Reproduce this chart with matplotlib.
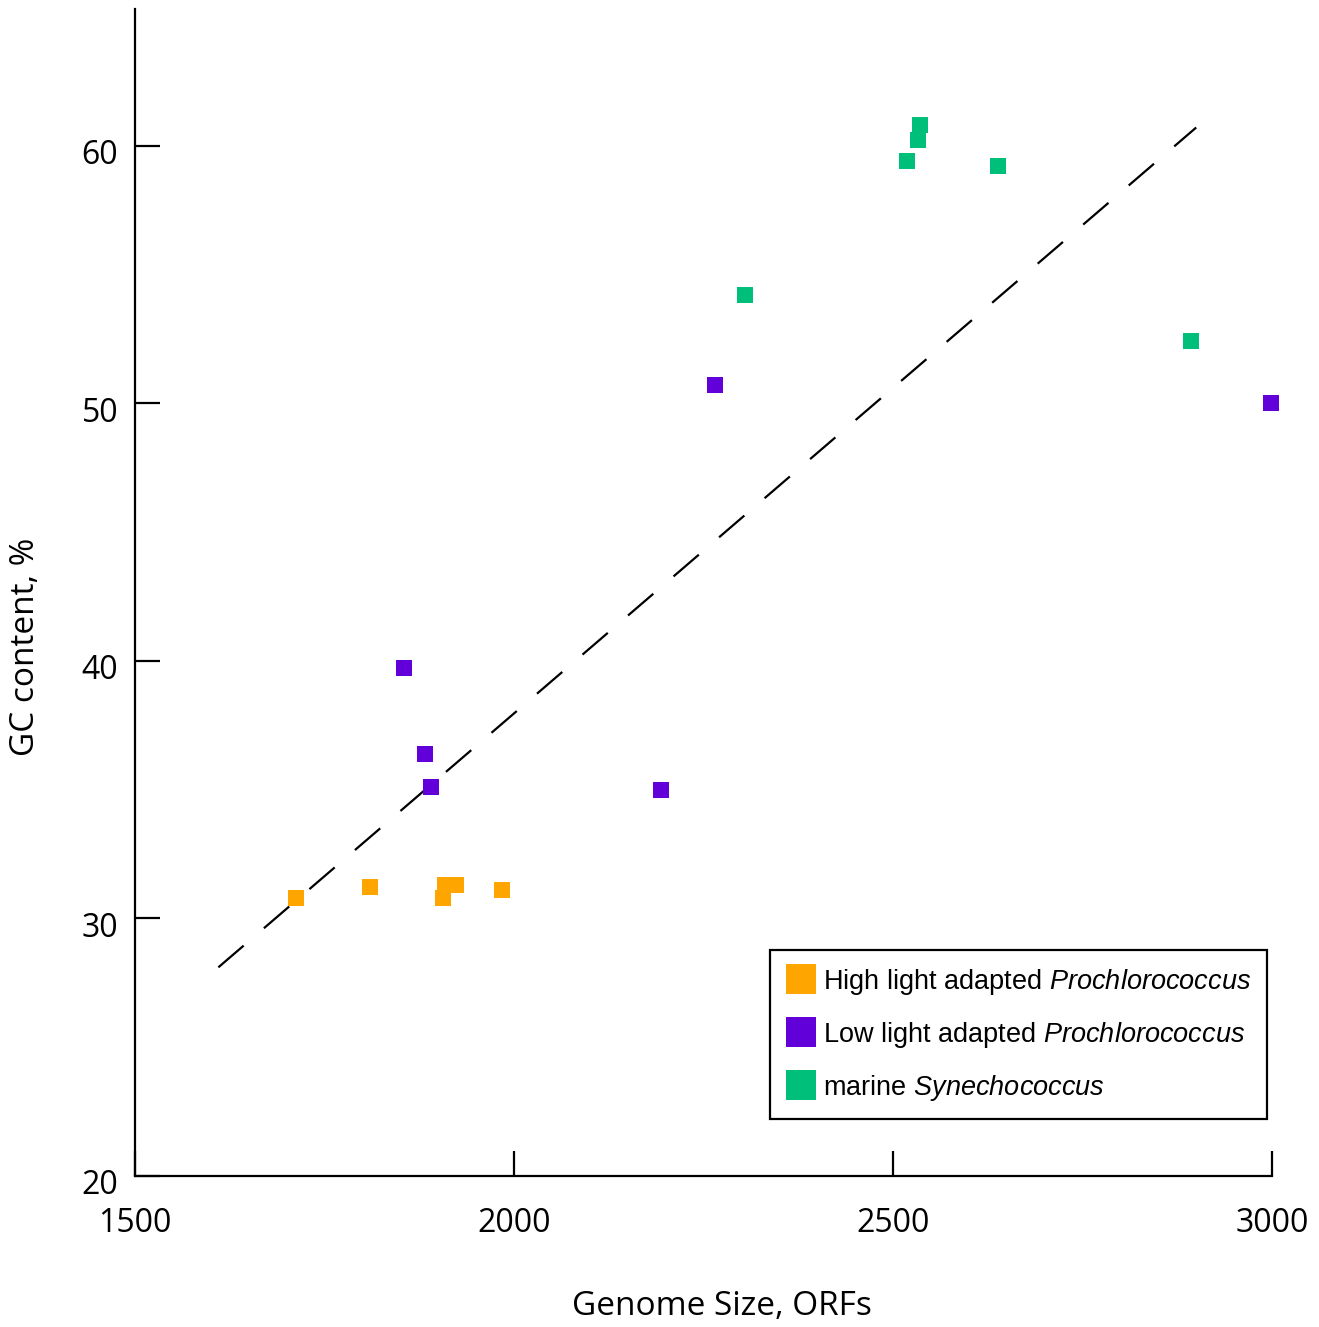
import matplotlib
matplotlib.use("Agg")
import matplotlib.pyplot as plt
import matplotlib.transforms as mtransforms
from matplotlib import font_manager
from matplotlib.lines import Line2D

# Data
hl_orfs = [1712, 1810, 1906, 1909, 1923, 1984]
hl_gc = [30.8, 31.2, 30.8, 31.3, 31.3, 31.1]

ll_orfs = [1855, 1883, 1890, 2194, 2265, 2999]
ll_gc = [39.7, 36.4, 35.1, 35.0, 50.7, 50.0]

syn_orfs = [2536, 2533, 2518, 2638, 2305, 2893]
syn_gc = [60.8, 60.2, 59.4, 59.2, 54.2, 52.4]

trend_orfs = [1610, 2900]
trend_gc = [28.1, 60.7]

x_ticks = [1500, 2000, 2500, 3000]
y_ticks = [20, 30, 40, 50, 60]

labels = ["High light adapted $\\it{Prochlorococcus}$",
          "Low light adapted $\\it{Prochlorococcus}$",
          "marine $\\it{Synechococcus}$"]
colors = ["#FFA500", "#6200D9", "#00BF7A"]

names = {f.name for f in font_manager.fontManager.ttflist}
leg_font = "Liberation Sans Narrow" if "Liberation Sans Narrow" in names else "Liberation Sans"
plt.rcParams["font.family"] = ["Open Sans", "DejaVu Sans"]
plt.rcParams["mathtext.fontset"] = "custom"
plt.rcParams["mathtext.rm"] = leg_font
plt.rcParams["mathtext.it"] = leg_font + ":italic"

fig = plt.figure(figsize=(13.19, 13.27), dpi=100)
ax = fig.add_axes([135 / 1319, 1 - 1176 / 1327, 1137 / 1319, 1167 / 1327])

ax.plot(trend_orfs, trend_gc, color="black", lw=1.6, dashes=(15, 12), zorder=1)
for xs, ys, c in zip([hl_orfs, ll_orfs, syn_orfs], [hl_gc, ll_gc, syn_gc], colors):
    ax.plot(xs, ys, linestyle="none", marker="s", markersize=11.5,
            markeredgewidth=0, color=c, clip_on=False, zorder=3)

ax.set_xlim(1500, 3000)
ax.set_ylim(20, 65.3)
ax.set_xticks(x_ticks)
ax.set_yticks(y_ticks)
ax.spines["top"].set_visible(False)
ax.spines["right"].set_visible(False)
for s in ["left", "bottom"]:
    ax.spines[s].set_linewidth(1.6)
ax.tick_params(direction="in", length=18, width=1.6, labelsize=23)
ax.tick_params(axis="x", pad=22)
ax.tick_params(axis="y", pad=12)
offset = mtransforms.ScaledTranslation(0, -6 / 100, fig.dpi_scale_trans)
for lab in ax.get_yticklabels():
    lab.set_transform(lab.get_transform() + offset)

ax.set_xlabel("Genome Size, ORFs", fontsize=24)
ax.set_ylabel("GC content, %", fontsize=24)
ax.xaxis.set_label_coords(0.516, -0.098)
ax.yaxis.set_label_coords(-0.082, 0.453)

handles = [Line2D([], [], linestyle="none", marker="s", markersize=21.6,
                  markeredgewidth=0, color=c) for c in colors]
leg = ax.legend(handles, labels, loc="lower right",
                bbox_to_anchor=(1267 / 1319, 1 - 1119 / 1327),
                bbox_transform=fig.transFigure,
                prop={"family": leg_font, "size": 19.5},
                frameon=True, fancybox=False, edgecolor="black",
                borderpad=0.6, labelspacing=0.85, handletextpad=0.25,
                handlelength=1.1, borderaxespad=0)
leg.get_frame().set_linewidth(1.6)
leg.get_frame().set_alpha(1)

fig.savefig("out.png", dpi=100)
